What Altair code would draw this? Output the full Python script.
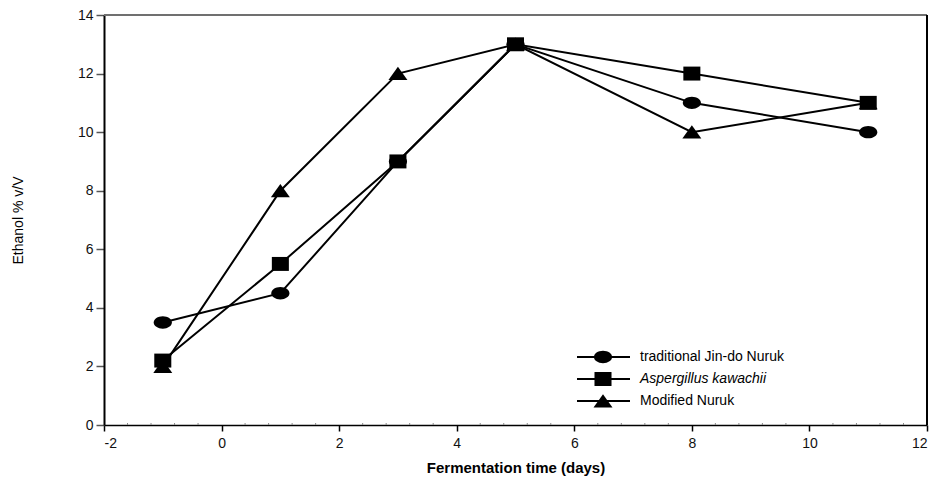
import altair as alt
import pandas as pd

# Ethanol content (% v/V) over fermentation time for three starters
days = [-1, 1, 3, 5, 8, 11]
jindo_nuruk = [3.5, 4.5, 9.0, 13.0, 11.0, 10.0]
a_kawachii = [2.2, 5.5, 9.0, 13.0, 12.0, 11.0]
modified_nuruk = [2.0, 8.0, 12.0, 13.0, 10.0, 11.0]

series_names = ["traditional Jin-do Nuruk", "Aspergillus kawachii", "Modified Nuruk"]
series_values = [jindo_nuruk, a_kawachii, modified_nuruk]

x_major = [-2, 0, 2, 4, 6, 8, 10, 12]
x_minor = [-1.6, -1.2, -0.8, -0.4, 0.4, 0.8, 1.2, 1.6, 2.4, 2.8, 3.2, 3.6,
           4.4, 4.8, 5.2, 5.6, 6.4, 6.8, 7.2, 7.6, 8.4, 8.8, 9.2, 9.6,
           10.4, 10.8, 11.2, 11.6]
y_major = [0, 2, 4, 6, 8, 10, 12, 14]

rows = []
for name, vals in zip(series_names, series_values):
    for d, v in zip(days, vals):
        rows.append({"series": name, "day": d, "ethanol": v})
df = pd.DataFrame(rows)

# Marker outlines (scaled by Vega: path unit = sqrt(size)/2)
CIRCLE = "M-1,0 A1,0.68 0 1,1 1,0 A1,0.68 0 1,1 -1,0 Z"
SQUARE = "M-1,-0.82 L1,-0.82 L1,0.82 L-1,0.82 Z"
TRIANGLE = "M0,-0.72 L1,0.68 L-1,0.68 Z"
shapes = [CIRCLE, SQUARE, TRIANGLE]
sizes = [330, 290, 360]

W, H = 823, 410
FONT = "Liberation Sans"

x_scale = alt.Scale(domain=[-2, 12], nice=False, zero=False)
y_scale = alt.Scale(domain=[0, 14], nice=False, zero=False)

x_axis = alt.Axis(
    values=x_major, title="Fermentation time (days)", grid=False,
    labelExpr="datum.value < 0 ? '-' + abs(datum.value) : '' + datum.value",
    tickSize=6, tickColor="#000000", tickWidth=1.5,
    domainColor="#000000", domainWidth=1.5,
    labelFont=FONT, labelFontSize=14, labelColor="#111111", labelPadding=5,
    titleFont=FONT, titleFontSize=15, titleFontWeight="bold", titleColor="#000000",
    titleX=W / 2, titleY=42, titleBaseline="middle", titleAlign="center",
)
y_axis = alt.Axis(
    values=y_major, title="Ethanol % v/V", grid=False, format="d",
    tickSize=8, tickColor="#555555", tickWidth=1.5,
    domainColor="#000000", domainWidth=2,
    labelFont=FONT, labelFontSize=14, labelColor="#111111", labelPadding=3,
    titleFont=FONT, titleFontSize=14, titleFontWeight="normal", titleColor="#000000",
    titleX=-86, titleY=205, titleAngle=-90, titleAlign="center", titleBaseline="middle",
)

base = alt.Chart(df)

lines = base.mark_line(color="black", strokeWidth=2).encode(
    x=alt.X("day:Q", scale=x_scale, axis=x_axis),
    y=alt.Y("ethanol:Q", scale=y_scale, axis=y_axis),
    detail="series:N",
)

markers = [
    base.transform_filter(alt.datum.series == name).mark_point(
        shape=shp, size=sz, filled=True, color="black", opacity=1
    ).encode(x="day:Q", y="ethanol:Q")
    for name, shp, sz in zip(series_names, shapes, sizes)
]

minor_ticks = alt.Chart(pd.DataFrame({"t": x_minor})).mark_rule(
    color="#888888", strokeWidth=1
).encode(x="t:Q", y=alt.value(H - 2), y2=alt.value(H))

frame_top = alt.Chart(pd.DataFrame({"k": [0]})).mark_rule(
    color="#707070", strokeWidth=2
).encode(x=alt.value(0), x2=alt.value(W), y=alt.value(0))
frame_right = alt.Chart(pd.DataFrame({"k": [0]})).mark_rule(
    color="#000000", strokeWidth=2
).encode(x=alt.value(W), y=alt.value(0), y2=alt.value(H))

# Legend: line segment with marker, then the label
legend_layers = []
leg_x0, leg_x1, leg_mx, leg_tx = 473, 526, 499, 536
leg_rows = [342, 364, 386]
one = pd.DataFrame({"k": [0]})
for name, shp, sz, ly in zip(series_names, shapes, sizes, leg_rows):
    legend_layers.append(
        alt.Chart(one).mark_rule(color="black", strokeWidth=2).encode(
            x=alt.value(leg_x0), x2=alt.value(leg_x1), y=alt.value(ly))
    )
    legend_layers.append(
        alt.Chart(one).mark_point(shape=shp, size=sz, filled=True, color="black", opacity=1).encode(
            x=alt.value(leg_mx), y=alt.value(ly))
    )
    legend_layers.append(
        alt.Chart(one).mark_text(
            text=name, align="left", baseline="middle", font=FONT, fontSize=14,
            fontStyle="italic" if name == "Aspergillus kawachii" else "normal",
            color="black",
        ).encode(x=alt.value(leg_tx), y=alt.value(ly))
    )

chart = alt.layer(
    minor_ticks, frame_top, frame_right, lines, *markers, *legend_layers
).properties(
    width=W, height=H,
    autosize=alt.AutoSizeParams(type="none"),
    padding={"left": 104, "top": 15, "right": 12, "bottom": 72},
).configure_view(stroke=None).configure(background="white")

chart.save("out.html", embed_options={"renderer": "svg", "actions": False})
